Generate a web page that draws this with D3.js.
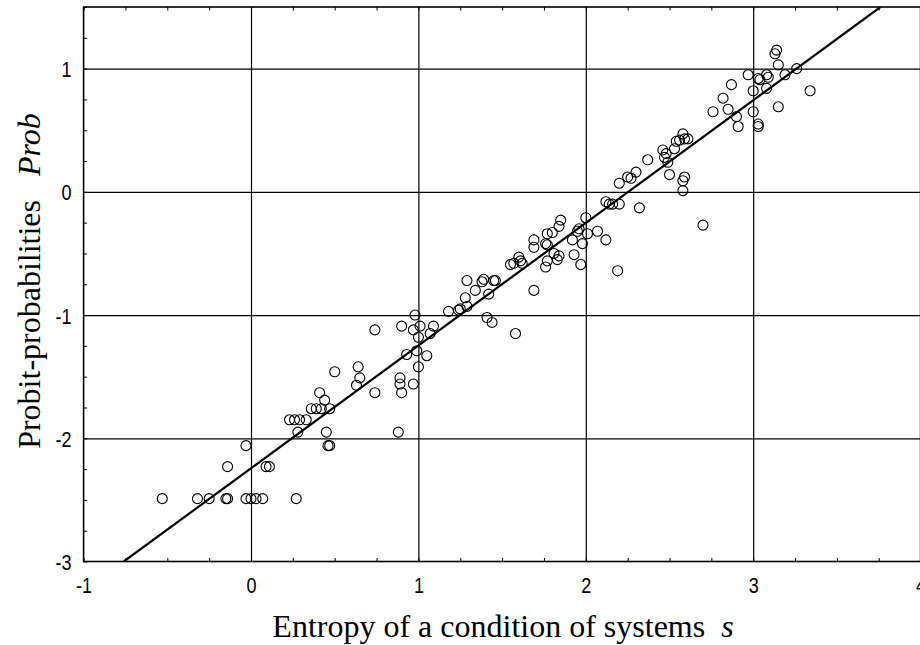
<!DOCTYPE html>
<html>
<head>
<meta charset="utf-8">
<script src="https://cdn.jsdelivr.net/npm/d3@7"></script>
<style>
  body { margin: 0; background: #fff; }
  svg { display: block; }
</style>
</head>
<body>
<div id="chart"></div>
<script>
// values
const entropyS = [
  -0.53, -0.32, -0.25, -0.15, -0.14, -0.03, 0.00, 0.03, 0.07, 0.27,
  -0.14, 0.09, 0.11, -0.03, 0.46, 0.47, 0.28, 0.45, 0.88,
  0.23, 0.26, 0.29, 0.33, 0.36, 0.39, 0.42, 0.47, 0.44, 0.41,
  0.50, 0.64, 0.65, 0.63, 0.74, 0.74, 0.89, 0.89, 0.90, 0.97,
  1.00, 0.93, 0.99, 1.05, 1.00, 1.07, 0.90, 0.98, 0.97, 1.01, 1.09,
  1.18, 1.24, 1.25, 1.28, 1.29, 1.29, 1.34, 1.38, 1.39, 1.45, 1.46,
  1.42, 1.41, 1.44, 1.58, 1.55, 1.57, 1.60, 1.61, 1.62, 1.69,
  1.69, 1.69, 1.76, 1.77, 1.76, 1.77, 1.77, 1.80, 1.81, 1.83, 1.84,
  1.84, 1.85, 1.92, 1.93, 1.95, 1.96, 1.97, 1.98, 2.00, 2.01,
  2.07, 2.12, 2.19, 2.12, 2.14, 2.16, 2.20, 2.32, 2.70,
  2.20, 2.25, 2.27, 2.30, 2.37, 2.46, 2.47, 2.48, 2.49, 2.50, 2.53,
  2.59, 2.58, 2.58, 2.54, 2.56, 2.58, 2.59, 2.61, 2.76, 2.82, 2.85,
  2.87, 2.90, 2.91, 2.97, 3.00, 3.00, 3.03, 3.04, 3.08, 3.09, 3.08,
  3.03, 3.03, 3.15, 3.19, 3.26, 3.14, 3.13, 3.15, 3.34
];
const probit = [
  -2.49, -2.49, -2.49, -2.49, -2.49, -2.49, -2.49, -2.49, -2.49, -2.49,
  -2.23, -2.23, -2.23, -2.06, -2.06, -2.06, -1.95, -1.95, -1.95,
  -1.85, -1.85, -1.85, -1.85, -1.76, -1.76, -1.76, -1.76, -1.69, -1.63,
  -1.46, -1.42, -1.51, -1.57, -1.63, -1.12, -1.51, -1.56, -1.63, -1.56,
  -1.42, -1.32, -1.29, -1.33, -1.18, -1.15, -1.09, -1.00, -1.12, -1.09, -1.09,
  -0.97, -0.96, -0.95, -0.86, -0.93, -0.72, -0.80, -0.73, -0.71, -0.72, -0.72,
  -0.83, -1.02, -1.06, -1.15, -0.59, -0.58, -0.53, -0.56, -0.58, -0.80,
  -0.45, -0.39, -0.61, -0.56, -0.42, -0.43, -0.34, -0.33, -0.50, -0.55, -0.52,
  -0.28, -0.23, -0.39, -0.51, -0.32, -0.30, -0.59, -0.42, -0.21, -0.34,
  -0.32, -0.39, -0.64, -0.08, -0.10, -0.10, -0.10, -0.13, -0.27,
  0.07, 0.12, 0.11, 0.16, 0.26, 0.34, 0.28, 0.31, 0.24, 0.14, 0.35,
  0.12, 0.09, 0.01, 0.41, 0.42, 0.47, 0.43, 0.43, 0.65, 0.76, 0.67,
  0.87, 0.61, 0.53, 0.95, 0.82, 0.65, 0.92, 0.91, 0.95, 0.93, 0.84,
  0.55, 0.53, 1.03, 0.95, 1.00, 1.15, 1.12, 0.69, 0.82
];
// fitted line end points
const fitS = [-0.76, 3.76];
const fitProb = [-3.0, 1.5];

const xTicks = [-1, 0, 1, 2, 3, 4];
const yTicks = [-3, -2, -1, 0, 1];
const xTitle = "Entropy of a condition of systems";
const xTitleVar = "s";
const yTitle = "Probit-probabilities";
const yTitleVar = "Prob";

const width = 920, height = 645;
const plotLeft = 83.6, plotRight = 920.6, plotTop = 7, plotBottom = 561.5;

const svg = d3.select("#chart").append("svg")
  .attr("width", width)
  .attr("height", height);

const x = d3.scaleLinear().domain([-1, 4]).range([plotLeft, plotRight]);
const y = d3.scaleLinear().domain([-3, 1.5]).range([plotBottom, plotTop]);

svg.append("clipPath").attr("id", "plotclip")
  .append("rect")
  .attr("x", plotLeft).attr("y", plotTop)
  .attr("width", plotRight - plotLeft).attr("height", plotBottom - plotTop);

// grid lines
const gridX = svg.append("g")
  .attr("transform", `translate(0,${plotBottom})`)
  .call(d3.axisBottom(x).tickValues([0, 1, 2, 3]).tickSize(-(plotBottom - plotTop)).tickFormat(""));
const gridY = svg.append("g")
  .attr("transform", `translate(${plotLeft},0)`)
  .call(d3.axisLeft(y).tickValues([-2, -1, 0, 1]).tickSize(-(plotRight - plotLeft)).tickFormat(""));
[gridX, gridY].forEach(g => {
  g.select(".domain").remove();
  g.selectAll("line").attr("stroke", "#000").attr("stroke-width", 1.2);
});

// minor ticks pointing inwards
const minorX = d3.range(-1, 4.01, 0.25);
const minorY = d3.range(-3, 1.51, 0.25);
const tickBottom = svg.append("g")
  .attr("transform", `translate(0,${plotBottom})`)
  .call(d3.axisBottom(x).tickValues(minorX).tickSize(-3.5).tickFormat(""));
const tickTop = svg.append("g")
  .attr("transform", `translate(0,${plotTop})`)
  .call(d3.axisTop(x).tickValues(minorX).tickSize(-3.5).tickFormat(""));
const tickLeft = svg.append("g")
  .attr("transform", `translate(${plotLeft},0)`)
  .call(d3.axisLeft(y).tickValues(minorY).tickSize(-3.5).tickFormat(""));
[tickBottom, tickTop, tickLeft].forEach(g => {
  g.select(".domain").remove();
  g.selectAll("line").attr("stroke", "#000").attr("stroke-width", 1);
});

// frame
svg.append("rect")
  .attr("x", plotLeft).attr("y", plotTop)
  .attr("width", plotRight - plotLeft).attr("height", plotBottom - plotTop)
  .attr("fill", "none")
  .attr("stroke", "#000")
  .attr("stroke-width", 1.6);

// points
const points = entropyS.map((s, i) => ({s: s, p: probit[i]}));
svg.append("g")
  .attr("clip-path", "url(#plotclip)")
  .selectAll("circle")
  .data(points)
  .enter()
  .append("circle")
  .attr("cx", d => x(d.s))
  .attr("cy", d => y(d.p))
  .attr("r", 5)
  .attr("fill", "none")
  .attr("stroke", "#000")
  .attr("stroke-width", 1.1);

// fitted line
const line = d3.line().x(d => x(d[0])).y(d => y(d[1]));
svg.append("path")
  .attr("clip-path", "url(#plotclip)")
  .datum(fitS.map((s, i) => [s, fitProb[i]]))
  .attr("d", line)
  .attr("fill", "none")
  .attr("stroke", "#000")
  .attr("stroke-width", 2.2);

// tick labels (plain hyphen for the minus, as in the picture)
const labelFont = "'Liberation Sans', Arial, sans-serif";
const fmt = d => String(d);
const xLabels = svg.append("g")
  .attr("transform", `translate(0,${plotBottom})`)
  .call(d3.axisBottom(x).tickValues(xTicks).tickSize(0).tickPadding(0).tickFormat(fmt));
xLabels.select(".domain").remove();
xLabels.selectAll("text")
  .attr("y", 0)
  .attr("dy", 0)
  .attr("transform", "translate(0,31) scale(0.82,1)")
  .style("font-family", labelFont)
  .style("font-size", "22px")
  .attr("fill", "#000");

const yLabels = svg.append("g")
  .attr("transform", `translate(${plotLeft},0)`)
  .call(d3.axisLeft(y).tickValues(yTicks).tickSize(0).tickPadding(0).tickFormat(fmt));
yLabels.select(".domain").remove();
yLabels.selectAll("text")
  .attr("x", 0)
  .attr("dy", 0)
  .attr("transform", "translate(-12,8) scale(0.82,1)")
  .style("font-family", labelFont)
  .style("font-size", "22px")
  .attr("fill", "#000");

// axis titles
const titleFont = "'Liberation Serif', 'Times New Roman', serif";
const xt = svg.append("text")
  .attr("x", 503)
  .attr("y", 637)
  .attr("text-anchor", "middle")
  .style("font-family", titleFont)
  .style("font-size", "32px")
  .attr("fill", "#000");
xt.append("tspan").text(xTitle + "\u00a0\u00a0");
xt.append("tspan").style("font-style", "italic").text(xTitleVar);

const yt = svg.append("text")
  .attr("transform", "translate(40,281) rotate(-90)")
  .attr("text-anchor", "middle")
  .style("font-family", titleFont)
  .style("font-size", "32px")
  .attr("fill", "#000");
yt.append("tspan").text(yTitle + "\u00a0\u00a0\u00a0");
yt.append("tspan").style("font-style", "italic").text(yTitleVar);
</script>
</body>
</html>
